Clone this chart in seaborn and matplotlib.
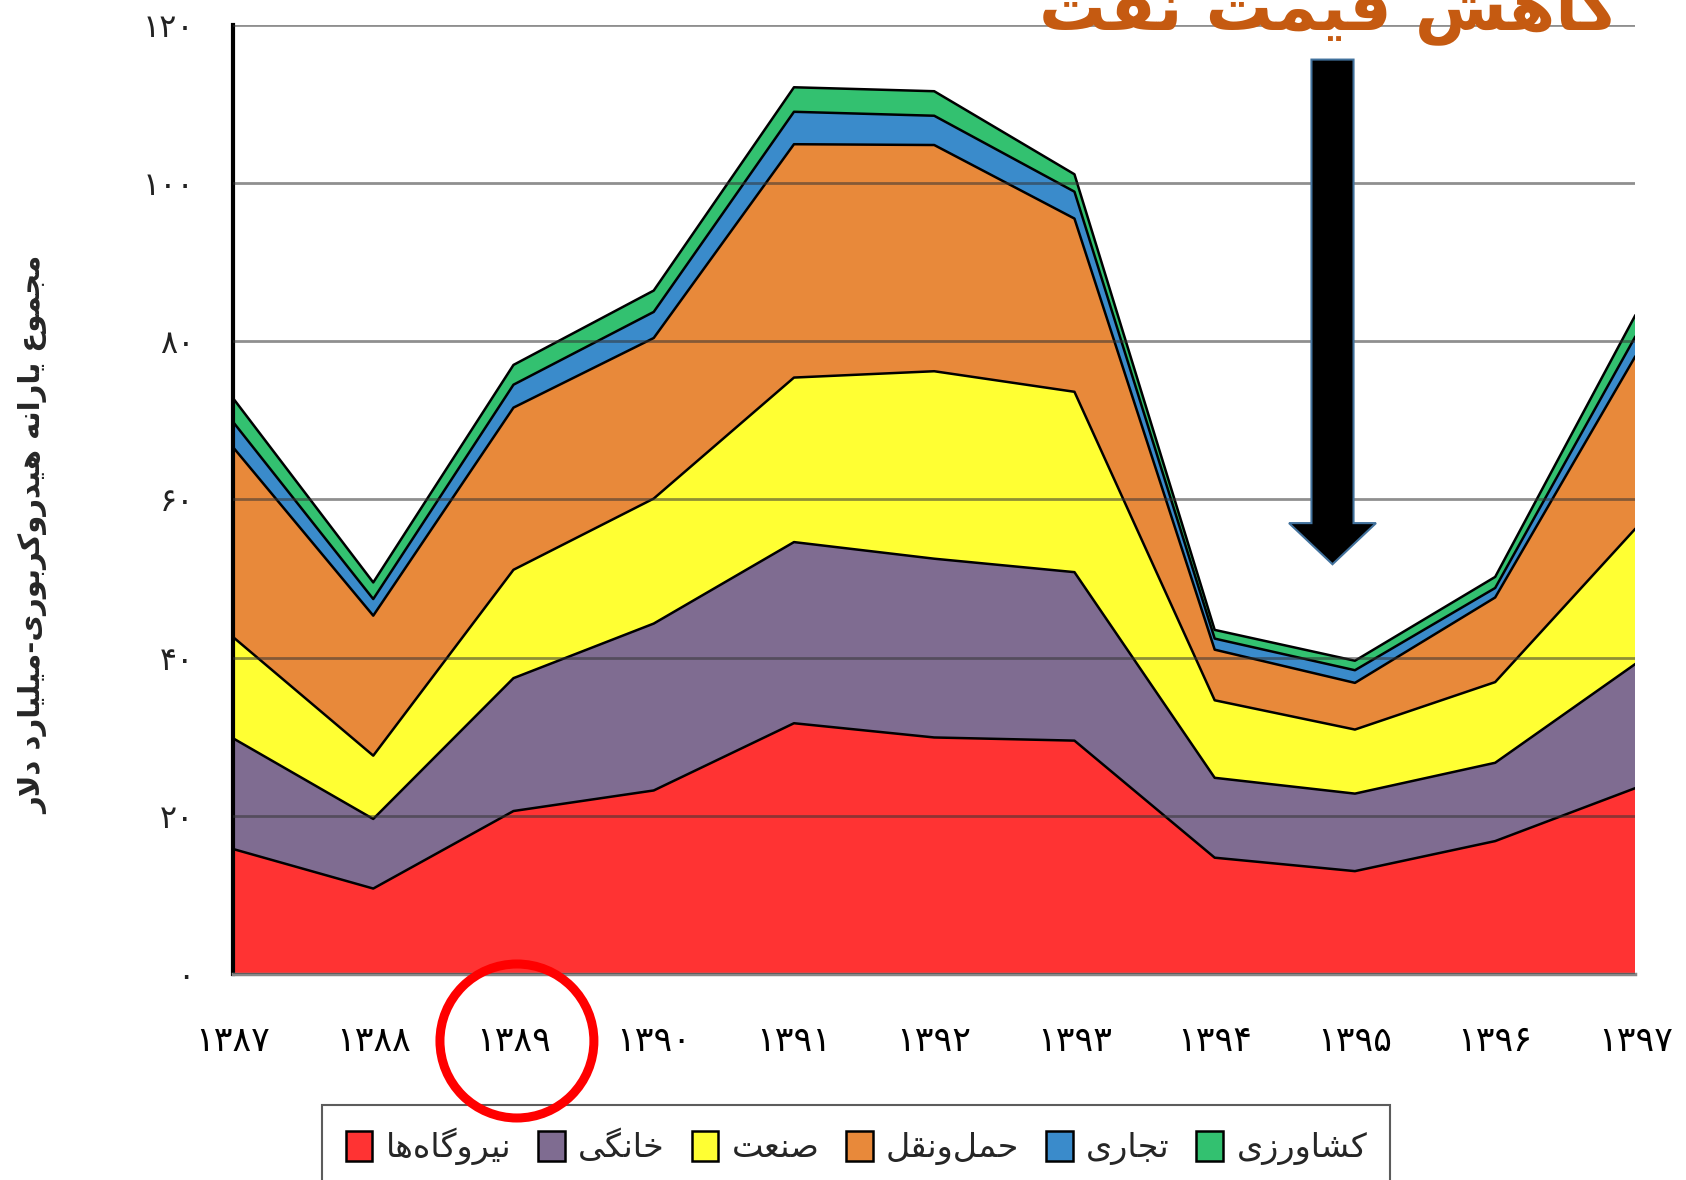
import numpy as np
import pandas as pd
import matplotlib
matplotlib.use("Agg")
import matplotlib.pyplot as plt
import seaborn as sns
from matplotlib.patches import FancyArrow, Ellipse, Patch

# داده‌ها (میلیارد دلار) - خوانده شده از نمودار
years = [1387, 1388, 1389, 1390, 1391, 1392, 1393, 1394, 1395, 1396, 1397]
niroogah = [15.8, 10.8, 20.6, 23.2, 31.7, 29.9, 29.5, 14.7, 13.0, 16.8, 23.5]
khanegi = [14.0, 8.8, 16.8, 21.1, 22.9, 22.6, 21.3, 10.1, 9.8, 9.9, 15.7]
sanat = [12.8, 8.0, 13.7, 15.8, 20.8, 23.7, 22.8, 9.8, 8.1, 10.2, 17.1]
hamlonaghl = [24.0, 17.7, 20.5, 20.3, 29.5, 28.6, 21.9, 6.4, 5.9, 10.7, 21.8]
tejari = [3.2, 2.1, 2.9, 3.3, 4.1, 3.7, 3.4, 1.4, 1.6, 1.2, 2.5]
keshavarzi = [3.0, 2.1, 2.5, 2.7, 3.1, 3.1, 2.2, 1.1, 1.2, 1.4, 2.7]

labels = ["نیروگاه\u200cها", "خانگی", "صنعت", "حمل\u200cونقل", "تجاری", "کشاورزی"]
colors = ["#FF3333", "#7F6C91", "#FFFF33", "#E8893A", "#3A8BCB", "#33C170"]
y_ticks = [0, 20, 40, 60, 80, 100, 120]

# matplotlib متن فارسی را شکل‌دهی نمی‌کند، پس اینجا دستی انجام می‌شود
FORMS = {
    "ا": ("\uFE8D", "\uFE8E", None, None),
    "ب": ("\uFE8F", "\uFE90", "\uFE91", "\uFE92"),
    "ت": ("\uFE95", "\uFE96", "\uFE97", "\uFE98"),
    "ج": ("\uFE9D", "\uFE9E", "\uFE9F", "\uFEA0"),
    "ح": ("\uFEA1", "\uFEA2", "\uFEA3", "\uFEA4"),
    "خ": ("\uFEA5", "\uFEA6", "\uFEA7", "\uFEA8"),
    "د": ("\uFEA9", "\uFEAA", None, None),
    "ر": ("\uFEAD", "\uFEAE", None, None),
    "ز": ("\uFEAF", "\uFEB0", None, None),
    "ش": ("\uFEB5", "\uFEB6", "\uFEB7", "\uFEB8"),
    "ص": ("\uFEB9", "\uFEBA", "\uFEBB", "\uFEBC"),
    "ع": ("\uFEC9", "\uFECA", "\uFECB", "\uFECC"),
    "ف": ("\uFED1", "\uFED2", "\uFED3", "\uFED4"),
    "ق": ("\uFED5", "\uFED6", "\uFED7", "\uFED8"),
    "ل": ("\uFEDD", "\uFEDE", "\uFEDF", "\uFEE0"),
    "م": ("\uFEE1", "\uFEE2", "\uFEE3", "\uFEE4"),
    "ن": ("\uFEE5", "\uFEE6", "\uFEE7", "\uFEE8"),
    "ه": ("\uFEE9", "\uFEEA", "\uFEEB", "\uFEEC"),
    "و": ("\uFEED", "\uFEEE", None, None),
    "ک": ("\uFB8E", "\uFB8F", "\uFB90", "\uFB91"),
    "گ": ("\uFB92", "\uFB93", "\uFB94", "\uFB95"),
    "ی": ("\uFBFC", "\uFBFD", "\uFBFE", "\uFBFF"),
}


def dual(c):
    return c in FORMS and FORMS[c][2] is not None


def fa(text):
    out = []
    i = 0
    n = len(text)
    while i < n:
        c = text[i]
        if c not in FORMS:
            if c != "\u200c":
                out.append(c)
            i += 1
            continue
        to_prev = i > 0 and dual(text[i - 1])
        if c == "ل" and i + 1 < n and text[i + 1] == "ا":
            out.append("\uFEFC" if to_prev else "\uFEFB")
            i += 2
            continue
        to_next = dual(c) and i + 1 < n and text[i + 1] in FORMS
        iso, fin, ini, med = FORMS[c]
        if to_prev and to_next:
            out.append(med)
        elif to_prev:
            out.append(fin)
        elif to_next:
            out.append(ini)
        else:
            out.append(iso)
        i += 1
    return "".join(reversed(out))


fa_digits = str.maketrans("0123456789", "۰۱۲۳۴۵۶۷۸۹")

sns.set_style("white")
plt.rcParams["font.family"] = ["DejaVu Sans"]

fig = plt.figure(figsize=(16.86, 11.80), dpi=100)
ax = fig.add_axes([0.1382, 0.1746, 0.8318, 0.8044])

layers = [niroogah, khanegi, sanat, hamlonaghl, tejari, keshavarzi]
ax.stackplot(years, *layers, colors=colors, edgecolor="none", zorder=1)

# خطوط مرزی لایه‌ها با seaborn
tops = np.cumsum(np.array(layers), axis=0)
df_tops = pd.DataFrame(
    [(y, k, v) for k, row in enumerate(tops) for y, v in zip(years, row)],
    columns=["year", "layer", "top"],
)
sns.lineplot(data=df_tops, x="year", y="top", hue="layer", units="layer",
             estimator=None, palette=["black"] * len(layers), linewidth=1.8,
             legend=False, ax=ax, zorder=2)

ax.set_xlim(years[0], years[-1])
ax.set_ylim(0, 120)
ax.set_xticks(years)
ax.set_xticklabels([str(y).translate(fa_digits) for y in years], fontsize=25)
ax.set_yticks(y_ticks)
ax.set_yticklabels([str(v).translate(fa_digits) for v in y_ticks], fontsize=23)
ax.tick_params(axis="x", length=0, pad=36, colors="black")
ax.tick_params(axis="y", length=0, pad=28, colors="#222222")
ax.set_xlabel("")
ax.set_ylabel("")

ax.set_axisbelow(False)
ax.grid(axis="y", color="#333333", alpha=0.55, linewidth=2)
ax.grid(axis="x", visible=False)
for s in ["top", "right"]:
    ax.spines[s].set_visible(False)
ax.spines["left"].set_color("black")
ax.spines["left"].set_linewidth(3)
ax.spines["bottom"].set_color("#888888")
ax.spines["bottom"].set_linewidth(2.5)

fig.text(0.02, 0.547, fa("مجموع یارانه هیدروکربوری-میلیارد دلار"),
         rotation=90, ha="center", va="center", fontsize=21, fontweight="bold")

# عنوان و فلش «کاهش قیمت نفت»
fig.text(0.788, 0.99, fa("کاهش قیمت نفت"), ha="center", va="center",
         fontsize=48, fontweight="bold", color="#C55A11")
arrow_x, arrow_top, arrow_tip = 1394.84, 115.6, 51.8
ax.add_patch(FancyArrow(arrow_x, arrow_top, 0, arrow_tip - arrow_top,
                        width=0.3, head_width=0.62, head_length=5.2,
                        length_includes_head=True, facecolor="black",
                        edgecolor="#41719C", linewidth=1.5, zorder=5))

handles = [Patch(facecolor=c, edgecolor="black", linewidth=1.8) for c in colors]
leg = fig.legend(handles, [fa(l) for l in labels], loc="upper center",
                 bbox_to_anchor=(0.508, 0.078), ncol=6, fontsize=24,
                 frameon=True, fancybox=False, handlelength=0.8, handleheight=1.0,
                 handletextpad=0.4, columnspacing=0.8, borderpad=0.7)
leg.get_frame().set_edgecolor("#333333")
leg.get_frame().set_linewidth(1.5)
leg.set_zorder(3)

# دایره قرمز دور ۱۳۸۹ (روی راهنما)
fig.add_artist(Ellipse((0.3066, 0.1178), 0.0913, 0.1305, transform=fig.transFigure,
                       fill=False, edgecolor="#FF0000", linewidth=6.5, zorder=10))

plt.savefig("out.png", dpi=100, facecolor="white")
